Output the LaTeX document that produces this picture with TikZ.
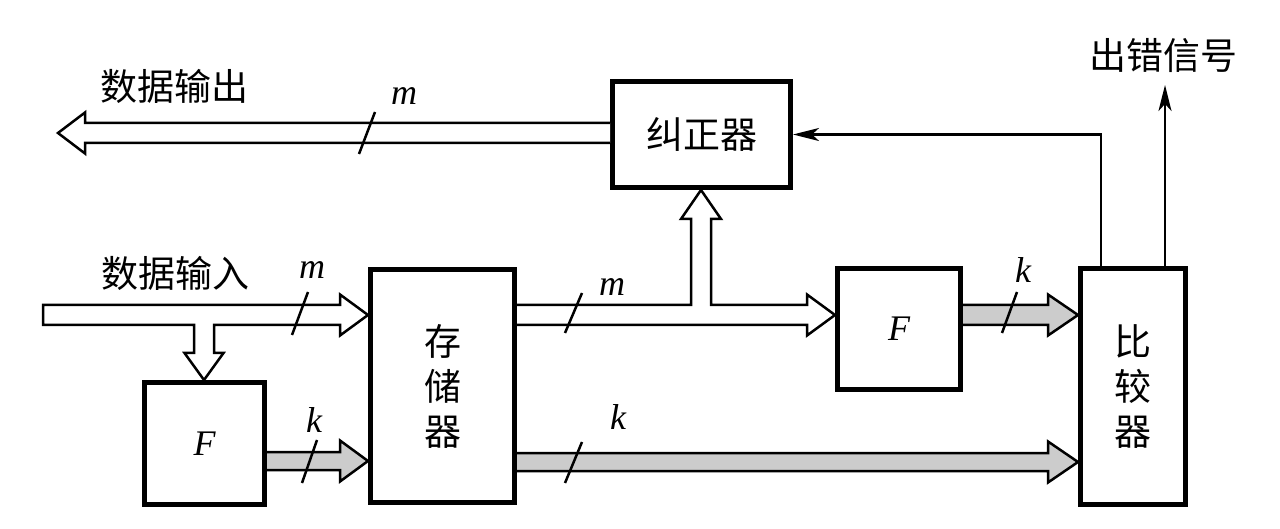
\documentclass[tikz,border=0pt]{standalone}
\usepackage{fontspec}
\setmainfont{Liberation Serif}
\newfontfamily\cjk{Noto Sans CJK SC}
\usetikzlibrary{arrows.meta}
\definecolor{busgray}{HTML}{CCCCCC}
\tikzset{
  blk/.style={draw, line width=5pt, fill=white, inner sep=0pt},
  bus/.style={draw, line width=2.5pt, fill=white, line join=miter},
  kbus/.style={draw, line width=2.5pt, fill=busgray, line join=miter},
  sig/.style={line width=2.5pt, line join=miter, -{Stealth[length=26pt,width=13pt,inset=7pt]}},
  cn/.style={font=\cjk\fontsize{37}{40}\selectfont},
  cnv/.style={font=\cjk\fontsize{37}{45}\selectfont, align=center},
  it/.style={font=\fontsize{36}{40}\selectfont\itshape, inner sep=0pt},
  tick/.style={line width=2.5pt},
}
\begin{document}
\begin{tikzpicture}[x=1pt,y=-1pt]
\useasboundingbox (0,0) rectangle (1280,529);

% boxes
\node[blk, cn, minimum width=178pt, minimum height=106pt] (cor) at (701.5,134.5) {纠正器};
\node[blk, cnv, minimum width=144pt, minimum height=233pt] (mem) at (442.5,386) {存\\储\\器};
\node[blk, it, minimum width=120pt, minimum height=122pt] (fl) at (204.5,443.5) {F};
\node[blk, it, minimum width=123pt, minimum height=121pt] (fr) at (899,329) {F};
\node[blk, cnv, minimum width=105pt, minimum height=236pt] (cmp) at (1133,386.5) {比\\较\\器};

% data output bus
\draw[bus] (610,123) -- (85,123) -- (85,112.5) -- (58,133) -- (85,153.5) -- (85,143) -- (610,143);
% data input bus with branch to left F
\draw[bus] (43,305) -- (340,305) -- (340,294.5) -- (368,315) -- (340,335.5) -- (340,325)
  -- (214,325) -- (214,353) -- (223.5,353) -- (204,380) -- (184.5,353) -- (194,353) -- (194,325)
  -- (43,325) -- cycle;
% memory to right F, with branch to corrector
\draw[bus] (517,305) -- (691,305) -- (691,219) -- (681,219) -- (701,190) -- (721,219) -- (711,219)
  -- (711,305) -- (807,305) -- (807,294.5) -- (835,315) -- (807,335.5) -- (807,325) -- (517,325);
% gray k buses
\draw[kbus] (267,452) -- (340,452) -- (340,440.5) -- (368,461) -- (340,481.5) -- (340,470) -- (267,470);
\draw[kbus] (517,453) -- (1048,453) -- (1048,441.5) -- (1078,462) -- (1048,482.5) -- (1048,471) -- (517,471);
\draw[kbus] (963,305) -- (1048,305) -- (1048,294.5) -- (1078,315) -- (1048,335.5) -- (1048,325) -- (963,325);

% signal lines
\coordinate (e1) at (1101,0);
\coordinate (err) at (1165,85);
\draw[sig] (cmp.north -| e1) |- (cor.east);
\draw[sig] (cmp.north -| err) -- (err);

% bus ticks
\draw[tick] (359,154) -- (375,112);
\draw[tick] (292,335) -- (308,292);
\draw[tick] (302,483) -- (317,440);
\draw[tick] (565,333) -- (582,293);
\draw[tick] (565,483) -- (582,442);
\draw[tick] (1002,333) -- (1017,292);

% labels
\node[cn] (outl) at (174,86) {数据输出};
\node[cn] (inl) at (175,273) {数据输入};
\node[cn] (errl) at (1163,55) {出错信号};
\node[it] (m1) at (404,96) {m};
\node[it] (m2) at (312,270) {m};
\node[it] (k1) at (314,420) {k};
\node[it] (m3) at (612,287) {m};
\node[it] (k2) at (618,417) {k};
\node[it] (k3) at (1023,270) {k};
\end{tikzpicture}
\end{document}
